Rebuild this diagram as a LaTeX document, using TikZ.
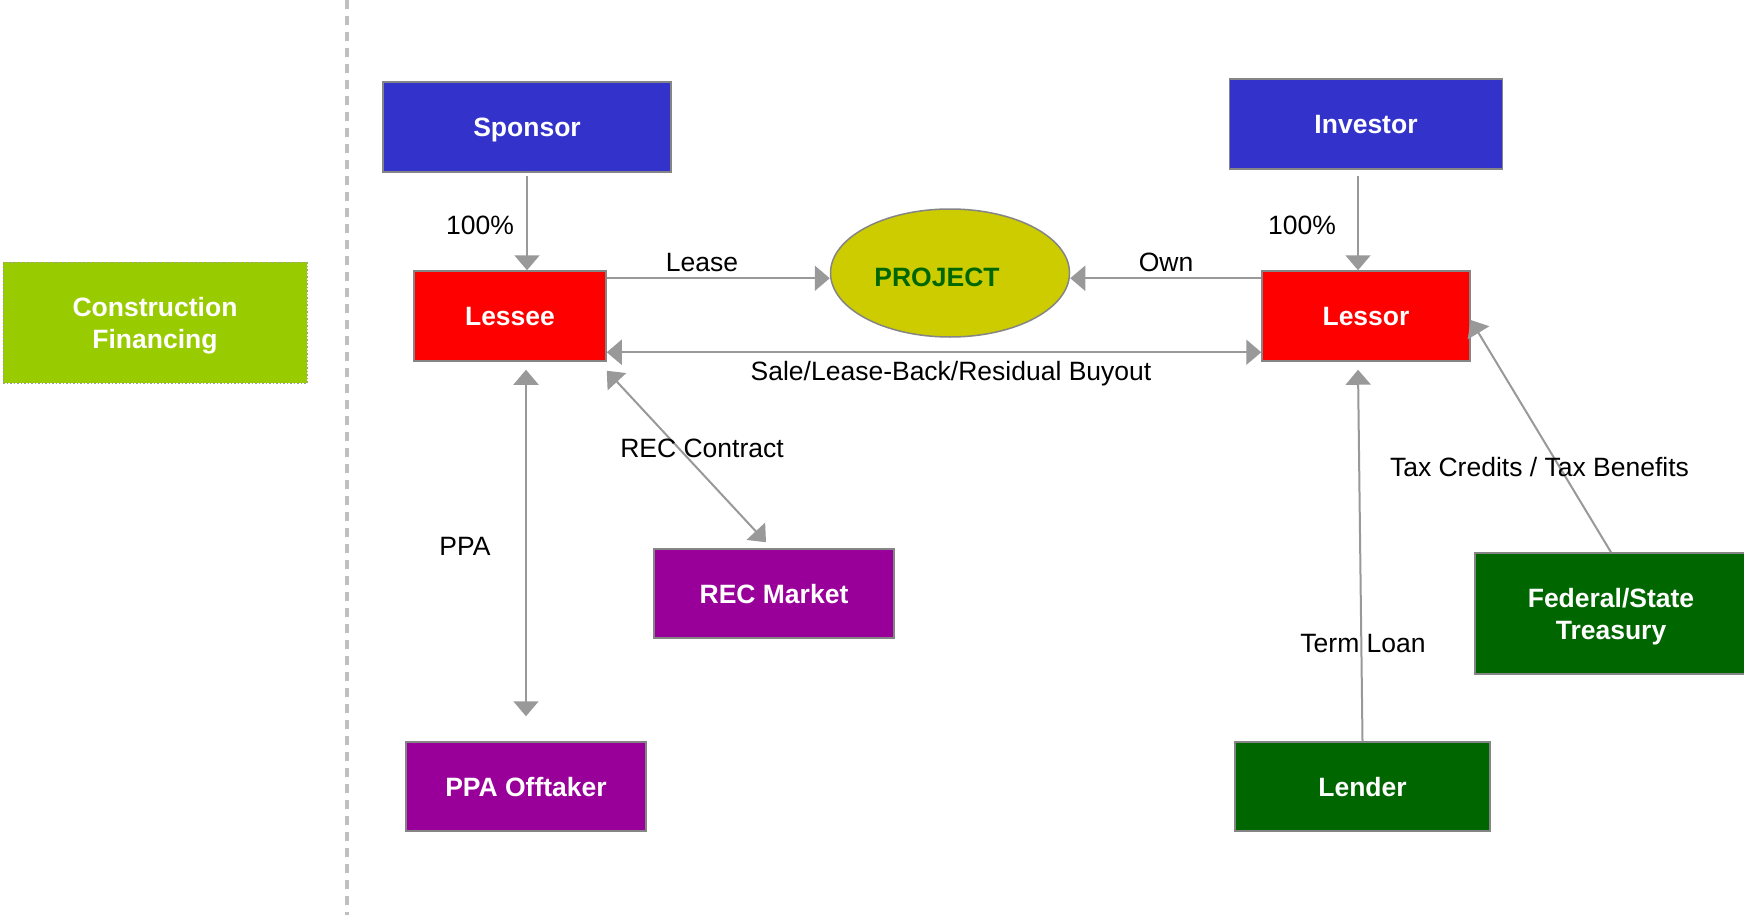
\documentclass[tikz,border=0pt]{standalone}
\usepackage{fontspec}
\setmainfont{Liberation Sans}
\usetikzlibrary{arrows.meta,shapes.geometric,calc}
\definecolor{boxblue}{HTML}{3333CC}
\definecolor{boxred}{HTML}{FF0000}
\definecolor{boxpurple}{HTML}{990099}
\definecolor{boxgreen}{HTML}{006600}
\definecolor{boxlime}{HTML}{99CC00}
\definecolor{projfill}{HTML}{CCCC00}
\definecolor{linkgray}{HTML}{999999}
\definecolor{edgegray}{HTML}{858585}
\definecolor{divider}{HTML}{BFBFBF}
\newcommand{\labelfont}{\fontsize{26.5}{32}\selectfont}
\begin{document}
\begin{tikzpicture}[x=1pt,y=-1pt,
  partybase/.style={draw=edgegray, line width=1.5pt, text=white,
    font=\bfseries\labelfont, inner sep=0pt, align=center, text depth=0pt},
  party/.style={partybase, text height=19pt},
  link/.style={draw=linkgray, line width=2pt, -{Triangle[width=25pt,length=15pt]}},
  both/.style={link, {Triangle[width=25pt,length=15pt]}-{Triangle[width=25pt,length=15pt]}},
  lbl/.style={font=\labelfont, text=black, inner sep=0pt, anchor=base}]

% canvas and white background
\useasboundingbox (0,0) rectangle (1744,915);
\fill[white] (0,0) rectangle (1744,915);

% dashed divider
\coordinate (divTop) at (347,0);
\coordinate (divBot) at (347,915);
\draw[divider, line width=4pt, dash pattern=on 9pt off 7pt] (divTop) -- (divBot);

% phase box
\node[partybase, draw=edgegray!80, dotted, line width=1pt, fill=boxlime,
      minimum width=304pt, minimum height=121pt] (cf) at (155,322.5)
      {Construction\\Financing};

% parties
\node[party, fill=boxblue, minimum width=288pt, minimum height=90pt] (sponsor) at (527,127) {Sponsor};
\node[party, fill=boxblue, minimum width=273pt, minimum height=90pt] (investor) at (1366,124) {Investor};
\node[party, fill=boxred, minimum width=192pt, minimum height=90pt] (lessee) at (510,316) {Lessee};
\node[party, fill=boxred, minimum width=208pt, minimum height=90pt] (lessor) at (1366,316) {Lessor};
\node[party, fill=boxpurple, minimum width=240pt, minimum height=89pt] (recmarket) at (774,593.5) {REC Market};
\node[party, fill=boxpurple, minimum width=240pt, minimum height=89pt] (offtaker) at (526,786.5) {PPA Offtaker};
\node[party, fill=boxgreen, minimum width=255pt, minimum height=89pt] (lender) at (1362.5,786.5) {Lender};
\node[partybase, fill=boxgreen, minimum width=272pt, minimum height=121pt] (treasury) at (1611,613.5) {Federal/State\\Treasury};

% project
\node[ellipse, draw=edgegray, line width=1.5pt, fill=projfill,
      minimum width=239pt, minimum height=128pt, inner sep=0pt] (project) at (950,273) {};
\node[font=\bfseries\labelfont, text=boxgreen, inner sep=0pt, anchor=base] (projlabel) at (937,286.5) {PROJECT};

% ownership arrows
\draw[link] ($(sponsor.south)+(0,3)$) -- (sponsor.south |- lessee.north);
\draw[link] ($(investor.south)+(-8,6)$) -- ($(lessor.north)+(-8,0)$);

% lease / own
\coordinate (leaseA) at ($(lessee.north east)+(0,8)$);
\draw[link] (leaseA) -- (leaseA -| project.west);
\coordinate (ownA) at ($(lessor.north west)+(0,8)$);
\draw[link] (ownA) -- (ownA -| project.east);

% sale / lease-back
\coordinate (saleA) at ($(lessee.south east)+(0,-9.5)$);
\draw[both] (saleA) -- (saleA -| lessor.west);

% contracts
\draw[both] ($(offtaker.north |- lessee.south)+(0,8)$) -- ($(offtaker.north)+(0,-25)$);
\draw[both] ($(lessee.south east)+(0,9)$) -- ($(recmarket.north)+(-8,-6)$);

% financing
\draw[link] (lender.north) -- ($(lessor.south)+(-8,8)$);
\draw[link] (treasury.north) -- ($(lessor.east)+(0,4)$);

% connector labels
\node[lbl] (pctS) at (480,234.5) {100\%};
\node[lbl] (pctI) at (1302,234.5) {100\%};
\node[lbl] (leaseL) at (702,271.5) {Lease};
\node[lbl] (ownL) at (1166,271.5) {Own};
\node[lbl] (saleL) at (951,380.5) {Sale/Lease-Back/Residual Buyout};
\node[lbl] (recL) at (702,457.5) {REC Contract};
\node[lbl] (ppaL) at (465,555.5) {PPA};
\node[lbl] (loanL) at (1363,652.5) {Term Loan};
\node[lbl] (taxL) at (1539.5,476.5) {Tax Credits / Tax Benefits};
\end{tikzpicture}
\end{document}
